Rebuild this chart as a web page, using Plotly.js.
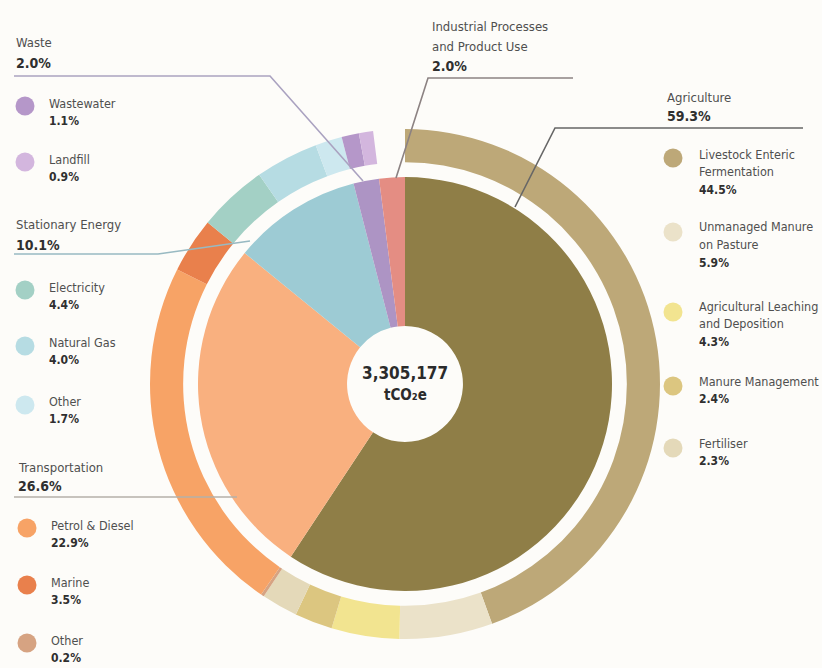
<!DOCTYPE html>
<html><head><meta charset="utf-8">
<script src="https://cdn.plot.ly/plotly-3.0.1.min.js"></script>
<style>html,body{margin:0;padding:0;background:#fdfcf9;}#chart{width:822px;height:668px;}</style>
</head><body><div id="chart"></div>
<script>
// ---- data ----
const sectors = ["Agriculture", "Transportation", "Stationary Energy", "Waste", "Industrial Processes and Product Use"];
const sectorValues = [59.3, 26.6, 10.1, 2.0, 2.0];
const sectorColors = ["#8f7e47", "#f9b07f", "#9dcbd4", "#ad94c4", "#e48d83"];

const subLabels = ["Livestock Enteric Fermentation", "Unmanaged Manure on Pasture", "Agricultural Leaching and Deposition", "Manure Management", "Fertiliser",
  "Other", "Petrol & Diesel", "Marine",
  "Electricity", "Natural Gas", "Other",
  "Wastewater", "Landfill",
  "Industrial Processes and Product Use"];
const subValues = [44.5, 5.9, 4.3, 2.4, 2.3, 0.2, 22.9, 3.5, 4.4, 4.0, 1.7, 1.1, 0.9, 2.0];
const subColors = ["#bda878", "#ebe2c9", "#f2e490", "#dcc680", "#e4d9b9",
  "#d6a382", "#f7a366", "#e9804c",
  "#a3d0c5", "#b6dce3", "#cde8ef",
  "#b597c9", "#d3b6de",
  "rgba(0,0,0,0)"];
const totalText = "3,305,177";
const unitText = "tCO₂e";

// ---- layout helpers (positions only) ----
const W = 822, H = 668;
const px = x => x / W, py = y => 1 - y / H;
const FONT = "'Liberation Sans Narrow', 'DejaVu Sans Condensed', 'Arial Narrow', sans-serif";
const TXT = "#4f4f4f", BOLD = "#2f2f2f";

const traces = [
  {type: "pie", values: subValues, labels: subLabels.map((l, i) => l + "#" + i), sort: false, direction: "clockwise", rotation: 0,
   hole: 0.87, marker: {colors: subColors, line: {width: 0}}, textinfo: "none", hoverinfo: "none",
   domain: {x: [px(150), px(660)], y: [py(639), py(129)]}},
  {type: "pie", values: sectorValues, labels: sectors, sort: false, direction: "clockwise", rotation: 0,
   hole: 0.28, marker: {colors: sectorColors, line: {width: 0}}, textinfo: "none", hoverinfo: "none",
   domain: {x: [px(198), px(612)], y: [py(591), py(177)]}}
];

const annotations = [];
const shapes = [];
function txt(x, y, t, opts) {
  opts = opts || {};
  annotations.push({xref: "paper", yref: "paper", x: px(x), y: py(y), xanchor: opts.anchor || "left", yanchor: "middle",
    text: opts.bold ? "<b>" + t + "</b>" : t, showarrow: false,
    font: {family: FONT, size: opts.size || 12.5, color: opts.bold ? BOLD : TXT}});
}
function line(points, color) {
  let d = points.map((p, i) => (i ? "L" : "M") + px(p[0]) + "," + py(p[1])).join(" ");
  shapes.push({type: "path", xref: "paper", yref: "paper", path: d, line: {color: color, width: 1.6}});
}
function dot(cx, cy, color) {
  const r = 9.5;
  shapes.push({type: "circle", xref: "paper", yref: "paper", x0: px(cx - r), x1: px(cx + r), y0: py(cy + r), y1: py(cy - r),
    fillcolor: color, line: {width: 0}});
}
const pct = v => v.toFixed(1) + "%";

// sector headers: [sectorIndex, x, [line texts], [line y's], pctY, leader path, leader colour]
const headers = [
  [3, 14, ["Waste"], [43], 63, [[14, 76], [270, 76], [363, 181]], "#aaa2c0"],
  [2, 14, ["Stationary Energy"], [225], 245, [[14, 254], [158, 254], [250, 241]], "#98b9c2"],
  [1, 16, ["Transportation"], [467], 486, [[14, 497], [237, 497]], "#b5b0a8"],
  [4, 430, ["Industrial Processes", "and Product Use"], [26, 46], 66, [[573, 78], [428, 78], [396, 178]], "#8c8282"],
  [0, 665, ["Agriculture"], [97], 116, [[803, 128], [555, 128], [515, 207]], "#666"]
];
headers.forEach(h => {
  h[2].forEach((t, i) => txt(h[1], h[3][i], t, {size: 13}));
  txt(h[1], h[4], pct(sectorValues[h[0]]), {bold: true, size: 14});
  line(h[5], h[6]);
});

// sub-category legend entries: [subIndex, dotX, textX, display lines, first line y, dot y]
const entries = [
  [11, 25, 47, ["Wastewater"], 103, 106],
  [12, 25, 47, ["Landfill"], 159, 162],
  [8, 25, 47, ["Electricity"], 287, 290],
  [9, 25, 47, ["Natural Gas"], 342, 346],
  [10, 25, 47, ["Other"], 401, 405],
  [6, 27, 49, ["Petrol & Diesel"], 525, 528],
  [7, 27, 49, ["Marine"], 582, 585],
  [5, 27, 49, ["Other"], 640, 643],
  [0, 673, 697, ["Livestock Enteric", "Fermentation"], 154, 158],
  [1, 673, 697, ["Unmanaged Manure", "on Pasture"], 227, 232],
  [2, 673, 697, ["Agricultural Leaching", "and Deposition"], 306, 312],
  [3, 673, 697, ["Manure Management"], 381, 386],
  [4, 673, 697, ["Fertiliser"], 443, 448]
];
entries.forEach(e => {
  const idx = e[0];
  dot(e[1], e[5], subColors[idx]);
  let y = e[4];
  e[3].forEach((t, i) => { txt(e[2], y, t); y += 18; });
  txt(e[2], y, pct(subValues[idx]), {bold: true, size: 12});
});

// centre total
annotations.push({xref: "paper", yref: "paper", x: px(405), y: py(373), xanchor: "center", yanchor: "middle", showarrow: false,
  text: "<b>" + totalText + "</b>", font: {family: FONT, size: 17, color: "#2b2b2b"}});
annotations.push({xref: "paper", yref: "paper", x: px(405), y: py(395), xanchor: "center", yanchor: "middle", showarrow: false,
  text: "<b>" + unitText + "</b>", font: {family: FONT, size: 15, color: "#2b2b2b"}});

const layout = {
  width: W, height: H, margin: {l: 0, r: 0, t: 0, b: 0},
  paper_bgcolor: "#fdfcf9", plot_bgcolor: "#fdfcf9", showlegend: false,
  annotations: annotations, shapes: shapes
};
Plotly.newPlot("chart", traces, layout, {displayModeBar: false, staticPlot: true});
</script></body></html>
